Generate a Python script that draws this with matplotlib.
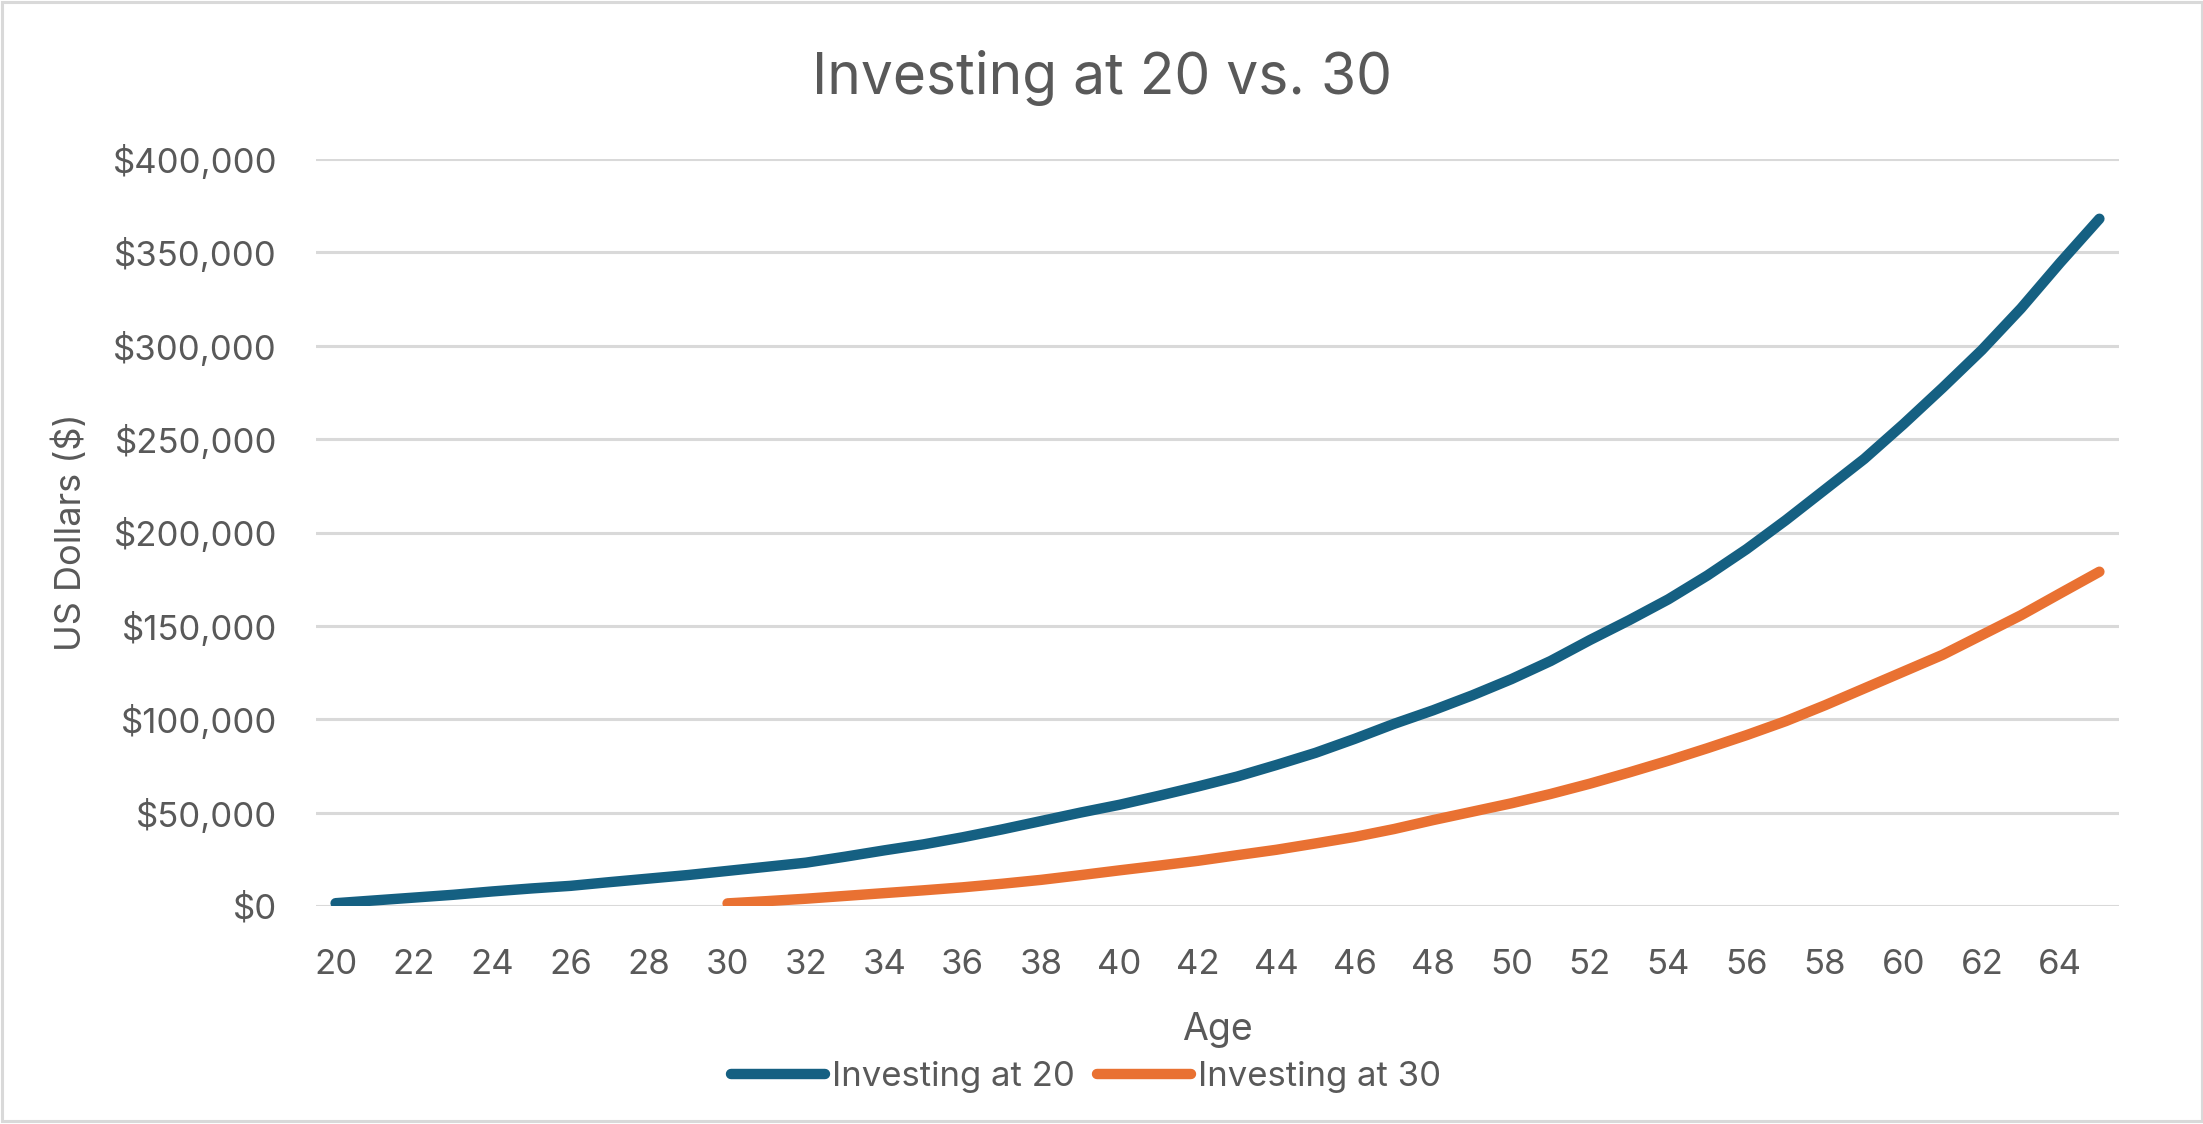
import matplotlib
matplotlib.use('Agg')
import matplotlib.pyplot as plt
from matplotlib.patches import Rectangle
from matplotlib.ticker import FuncFormatter

# ages on the category axis
ages_20 = list(range(20, 66))
ages_30 = list(range(30, 66))

# balance when starting at 20 (US dollars)
invest_20 = [1500, 3000, 4500, 6000, 7800, 9400, 10800, 12800, 14700, 16600,
             18800, 21000, 23200, 26400, 29800, 33000, 36800, 41000, 45500, 50000,
             54200, 59000, 64000, 69300, 75500, 82000, 89500, 97500, 104800, 112800,
             121500, 131200, 142400, 153000, 164200, 177000, 191100, 206600, 223000, 239400,
             258000, 277500, 297700, 320000, 344500, 368000]

# balance when starting at 30 (US dollars)
invest_30 = [1400, 2600, 3900, 5400, 6900, 8400, 10000, 11900, 14000, 16500,
             19100, 21600, 24200, 27200, 30100, 33500, 37000, 41200, 46000, 50500,
             55000, 60000, 65500, 71500, 77800, 84500, 91500, 99000, 107500, 116500,
             125500, 134500, 145100, 155700, 167400, 179000]

y_ticks = list(range(0, 400001, 50000))
x_ticks = list(range(20, 65, 2))

txt = '#595959'
grid = '#D9D9D9'
blue = '#156082'
orange = '#E97132'
plt.rcParams['font.family'] = ['Inter', 'DejaVu Sans']

W, H = 2203, 1124
fig = plt.figure(figsize=(W / 100, H / 100), dpi=100)
ax = fig.add_axes([316 / W, 1 - 906 / H, (2119 - 316) / W, (906 - 159) / H])

ax.plot(ages_20, invest_20, color=blue, lw=7.5, solid_capstyle='round',
        solid_joinstyle='round', label='Investing at 20', zorder=3)
ax.plot(ages_30, invest_30, color=orange, lw=7.5, solid_capstyle='round',
        solid_joinstyle='round', label='Investing at 30', zorder=3)

ax.set_xlim(19.5, 65.5)
ax.set_ylim(0, 400000)
ax.set_xticks(x_ticks)
ax.set_yticks(y_ticks)
ax.yaxis.set_major_formatter(FuncFormatter(lambda v, p: '${:,.0f}'.format(v)))
ax.tick_params(length=0, labelsize=25, labelcolor=txt)
ax.tick_params(axis='y', pad=28)
ax.tick_params(axis='x', pad=31)
ax.grid(axis='y', color=grid, lw=2.2)
ax.set_axisbelow(True)
for s in ax.spines.values():
    s.set_visible(False)

fig.text(0.5, 1 - 94 / H, 'Investing at 20 vs. 30', ha='center', va='baseline',
         fontsize=41, color=txt)
fig.text(1217.5 / W, 1 - 1040 / H, 'Age', ha='center', va='baseline',
         fontsize=27, color=txt)
# baseline of the rotated label sits at x ~ 81 px
fig.text(81 / W, 1 - 532 / H, 'US Dollars ($)', ha='center', va='baseline',
         rotation=90, rotation_mode='anchor', fontsize=26, color=txt)

fig.legend(loc='center', bbox_to_anchor=(1086 / W, 1 - 1077 / H), ncol=2,
           frameon=False, fontsize=25, labelcolor=txt, handlelength=2.7,
           handletextpad=0.2, columnspacing=0.65)

fig.patches.append(Rectangle((1.5 / W, 3 / H), 1 - 3 / W, 1 - 4.5 / H,
                             transform=fig.transFigure, fill=False,
                             edgecolor=grid, lw=2.2))

fig.savefig('out.png', dpi=100)
